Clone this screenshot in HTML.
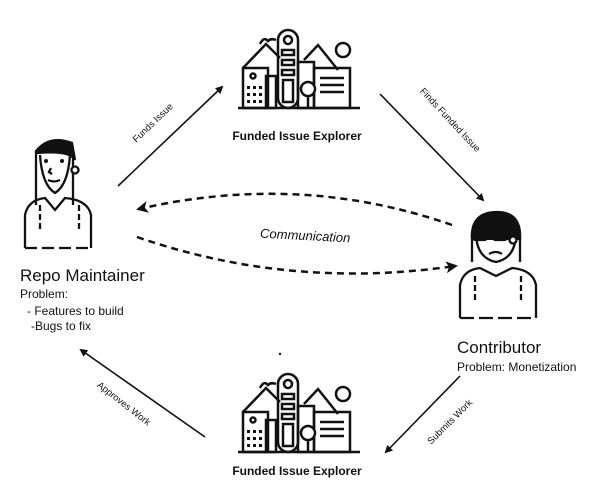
<!DOCTYPE html>
<html><head><style>
html,body{margin:0;padding:0;background:#fff}
svg{display:block}
text{font-family:"Liberation Sans",sans-serif;fill:#111}
</style></head><body>
<svg width="594" height="501" viewBox="0 0 594 501" xmlns="http://www.w3.org/2000/svg">
<defs>
<marker id="ah" markerWidth="8" markerHeight="8" refX="6" refY="4" orient="auto" markerUnits="userSpaceOnUse"><path d="M0,0 L8,4 L0,8 z" fill="#111"/></marker>
<marker id="ah2" markerWidth="12" markerHeight="12" refX="9" refY="6" orient="auto" markerUnits="userSpaceOnUse"><path d="M0,0 L12,6 L0,12 L3,6 z" fill="#111"/></marker>
<g id="city" fill="none" stroke="#111" stroke-width="2.5">
<line x1="0" y1="78" x2="122" y2="78"/>
<path d="M5,38 L28,14 L42,28"/>
<path d="M66,30 L80,15 L100,40"/>
<rect x="5" y="38" width="25" height="40"/>
<rect x="28" y="46" width="10" height="32"/>
<rect x="40" y="0" width="20" height="78" rx="10"/>
<circle cx="50" cy="10" r="4"/>
<rect x="44" y="20" width="12" height="5"/><rect x="44" y="30" width="12" height="5"/><rect x="44" y="40" width="12" height="5"/>
<rect x="45" y="50" width="10" height="22"/>
<rect x="60" y="32" width="16" height="46"/>
<rect x="76" y="38" width="36" height="40"/>
<line x1="82" y1="48" x2="106" y2="48"/><line x1="82" y1="55" x2="106" y2="55"/><line x1="82" y1="62" x2="106" y2="62"/>
<circle cx="70" cy="59" r="7" fill="#fff"/><line x1="70" y1="66" x2="70" y2="78"/>
<circle cx="105" cy="20" r="7"/>
<path d="M22,14 q4,-8 8,-3 q3,-3 8,-1"/>
<circle cx="15" cy="46" r="2.5"/>
</g>
<g id="dots" fill="#111"><rect x="9" y="56" width="3" height="3"/><rect x="15" y="56" width="3" height="3"/><rect x="21" y="56" width="3" height="3"/><rect x="9" y="63" width="3" height="3"/><rect x="15" y="63" width="3" height="3"/><rect x="21" y="63" width="3" height="3"/><rect x="9" y="70" width="3" height="3"/><rect x="15" y="70" width="3" height="3"/><rect x="21" y="70" width="3" height="3"/></g>
</defs>

<g transform="translate(238,30)"><use href="#city"/><use href="#dots"/></g>
<text x="297" y="140" font-size="12" text-anchor="middle" font-weight="bold">Funded Issue Explorer</text>
<g transform="translate(238,374)"><use href="#city"/><use href="#dots"/></g>
<circle cx="280" cy="354" r="1.2" fill="#111"/>
<text x="297" y="475" font-size="12" text-anchor="middle" font-weight="bold">Funded Issue Explorer</text>

<g fill="none" stroke="#111" stroke-width="2.3">
<path d="M37,150 Q50,135 72,143 L75,160 Q70,150 37,153 z" fill="#111"/>
<path d="M36,150 L36,205 M73,150 L73,205"/>
<path d="M40,155 Q42,185 55,193 Q68,185 70,155"/>
<circle cx="75" cy="170" r="3.5" fill="#fff"/>
<path d="M25,248 L25,215 Q28,200 45,198 L55,210 L65,198 Q88,200 91,215 L91,248"/>
<path d="M25,248 L91,248" stroke-dasharray="12,5"/>
<path d="M40,205 L40,230 M79,205 L79,230" stroke-dasharray="6,3"/>
<path d="M48,180 Q54,183 60,180"/>
<path d="M51,168 L49,172 L52,174"/>
</g>
<circle cx="46" cy="161" r="2" fill="#111"/><circle cx="62" cy="161" r="2" fill="#111"/>
<text x="20" y="281" font-size="17">Repo Maintainer</text>
<text x="20" y="298" font-size="12">Problem:</text>
<text x="27" y="315" font-size="12">- Features to build</text>
<text x="31" y="330" font-size="12">-Bugs to fix</text>

<g fill="none" stroke="#111" stroke-width="2.3">
<path d="M472,240 Q470,212 497,212 Q522,212 520,240" fill="#111"/>
<path d="M472,240 L472,262 M520,240 L520,262"/>
<path d="M476,232 Q476,258 496,262 Q516,258 516,232"/>
<rect x="472" y="230" width="16" height="10" rx="4"/><rect x="492" y="230" width="16" height="10" rx="4"/>
<circle cx="513" cy="240" r="3.5" fill="#fff"/>
<path d="M460,318 L460,285 Q463,270 480,268 L496,276 L512,268 Q533,270 536,285 L536,318"/>
<path d="M460,318 L536,318" stroke-dasharray="14,5"/>
<path d="M475,276 L475,300 M521,276 L521,300" stroke-dasharray="6,3"/>
<path d="M489,254 Q496,250 502,254"/>
</g>
<text x="457" y="353" font-size="17">Contributor</text>
<text x="457" y="371" font-size="12">Problem: Monetization</text>

<g stroke="#111" stroke-width="1.6">
<line x1="118" y1="186" x2="222" y2="87" marker-end="url(#ah)"/>
<line x1="380" y1="94" x2="483" y2="200" marker-end="url(#ah)"/>
<line x1="460" y1="376" x2="386" y2="452" marker-end="url(#ah)"/>
<line x1="205" y1="437" x2="81" y2="350" marker-end="url(#ah)"/>
</g>
<g fill="none" stroke="#111" stroke-width="2.5" stroke-dasharray="7,5">
<path d="M452,225 Q300,172 139,209" marker-end="url(#ah2)"/>
<path d="M137,237 Q290,290 455,266" marker-end="url(#ah2)"/>
</g>
<text transform="translate(305,240) rotate(3)" font-size="13" font-style="italic" text-anchor="middle">Communication</text>
<text transform="translate(155,125) rotate(-44)" font-size="9.5" text-anchor="middle">Funds Issue</text>
<text transform="translate(448,122) rotate(47)" font-size="9.5" text-anchor="middle">Finds Funded  Issue</text>
<text transform="translate(452,424) rotate(-45)" font-size="9.5" text-anchor="middle">Submits Work</text>
<text transform="translate(122,406) rotate(38)" font-size="9.5" text-anchor="middle">Approves Work</text>
</svg>
</body></html>
